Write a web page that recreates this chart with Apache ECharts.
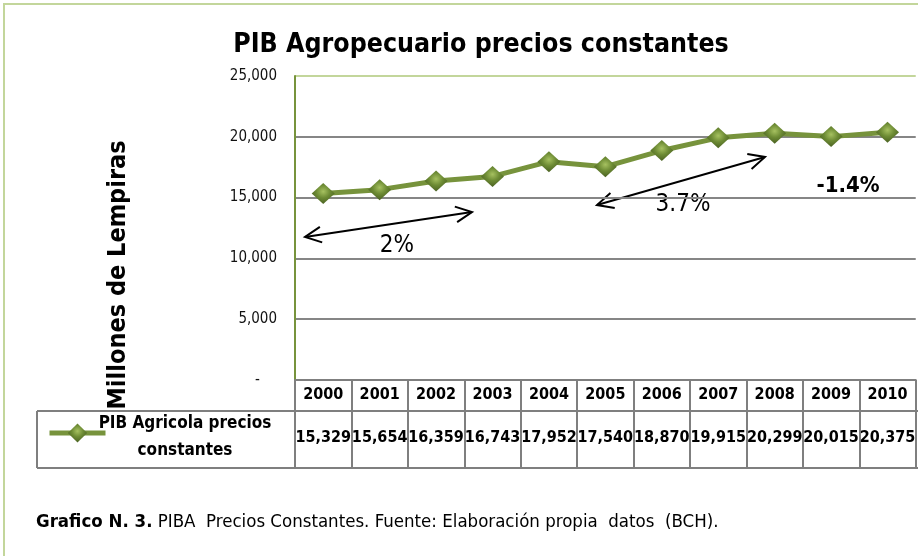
<!DOCTYPE html>
<html>
<head>
<meta charset="utf-8">
<script src="https://cdn.jsdelivr.net/npm/echarts@6/dist/echarts.min.js"></script>
<style>
  html, body { margin: 0; padding: 0; background: #fff; }
  #chart { width: 918px; height: 556px; }
</style>
</head>
<body>
<div id="chart"></div>
<script>
// datos del grafico
var years = ['2000', '2001', '2002', '2003', '2004', '2005', '2006', '2007', '2008', '2009', '2010'];
var pibAgricola = [15329, 15654, 16359, 16743, 17952, 17540, 18870, 19915, 20299, 20015, 20375];
var yTicks = [0, 5000, 10000, 15000, 20000, 25000];
var serieNombre = 'PIB Agricola precios constantes';

var NARROW = "'Liberation Sans Narrow', 'DejaVu Sans Condensed', 'Roboto', sans-serif";
var GREEN = '#77933c';
var GRID_GREY = '#868686';
var TABLE_GREY = '#7f7f7f';
var FRAME = '#c3d69b';

function miles(v) {
  return v.toLocaleString('en-US');
}

var chart = echarts.init(document.getElementById('chart'));

// flecha doble (decoracion)
function flecha(x1, y1, x2, y2) {
  var ang = Math.atan2(y2 - y1, x2 - x1);
  var L = 18, a = 0.45;
  function head(x, y, dir) {
    return {
      type: 'polyline',
      shape: { points: [
        [x + dir * L * Math.cos(ang - a), y + dir * L * Math.sin(ang - a)],
        [x, y],
        [x + dir * L * Math.cos(ang + a), y + dir * L * Math.sin(ang + a)]
      ] },
      style: { stroke: '#000', lineWidth: 2, fill: null }
    };
  }
  return [
    { type: 'line', shape: { x1: x1, y1: y1, x2: x2, y2: y2 }, style: { stroke: '#000', lineWidth: 2 } },
    head(x1, y1, 1),
    head(x2, y2, -1)
  ];
}

var graficos = [
  // marco exterior
  { type: 'rect', shape: { x: 4, y: 4, width: 1000, height: 1000 }, style: { fill: null, stroke: FRAME, lineWidth: 2 } },
  // tabla: lineas horizontales
  { type: 'line', shape: { x1: 37, y1: 411, x2: 930, y2: 411 }, style: { stroke: TABLE_GREY, lineWidth: 2 } },
  { type: 'line', shape: { x1: 37, y1: 468, x2: 930, y2: 468 }, style: { stroke: TABLE_GREY, lineWidth: 2 } },
  { type: 'line', shape: { x1: 37, y1: 411, x2: 37, y2: 468 }, style: { stroke: TABLE_GREY, lineWidth: 2 } },
  // texto de la leyenda
  { type: 'text', x: 185, y: 424, style: { text: 'PIB Agricola precios', font: 'bold 17px ' + NARROW, fill: '#000', align: 'center', verticalAlign: 'middle' } },
  { type: 'text', x: 185, y: 451, style: { text: 'constantes', font: 'bold 17px ' + NARROW, fill: '#000', align: 'center', verticalAlign: 'middle' } },
  // titulo del eje
  { type: 'text', x: 118, y: 275, rotation: Math.PI / 2, style: { text: 'Millones de Lempiras', font: 'bold 25px ' + NARROW, fill: '#000', align: 'center', verticalAlign: 'middle' } },
  // anotaciones
  { type: 'text', x: 397, y: 246, style: { text: '2%', font: '24px ' + NARROW, fill: '#000', align: 'center', verticalAlign: 'middle' } },
  { type: 'text', x: 683, y: 205, style: { text: '3.7%', font: '24px ' + NARROW, fill: '#000', align: 'center', verticalAlign: 'middle' } },
  { type: 'text', x: 848, y: 186, style: { text: '-1.4%', font: 'bold 22px ' + NARROW, fill: '#000', align: 'center', verticalAlign: 'middle' } },
  // pie de grafico
  { type: 'text', x: 36, y: 522, style: {
      text: '{b|Grafico N. 3.} PIBA  Precios Constantes. Fuente: Elaboración propia  datos  (BCH).',
      font: '18.5px ' + NARROW, fill: '#000', verticalAlign: 'middle',
      rich: { b: { font: 'bold 18.5px ' + NARROW, fill: '#000' } }
  } }
].concat(flecha(305, 237, 472, 212), flecha(597, 205, 765, 157));

var option = {
  animation: false,
  backgroundColor: '#fff',
  title: {
    text: 'PIB Agropecuario precios constantes',
    left: 476,
    top: 27,
    textAlign: 'center',
    textStyle: { fontFamily: NARROW, fontSize: 26.5, fontWeight: 'bold', color: '#000' }
  },
  legend: {
    left: 42,
    top: 416,
    itemWidth: 56,
    itemHeight: 24,
    formatter: function () { return ''; },
    lineStyle: { width: 5 },
    data: [serieNombre]
  },
  grid: { left: 295, top: 76, right: -4, height: 304 },
  xAxis: {
    type: 'category',
    data: years,
    boundaryGap: true,
    axisLine: { show: true, lineStyle: { color: TABLE_GREY, width: 2 } },
    axisTick: { show: true, length: 88, lineStyle: { color: TABLE_GREY, width: 2 } },
    axisLabel: {
      margin: 0,
      interval: 0,
      formatter: function (v, i) {
        return '{y|' + v + '}\n{v|' + miles(pibAgricola[i]) + '}';
      },
      rich: {
        y: { fontFamily: NARROW, fontSize: 16, fontWeight: 'bold', color: '#000', height: 30, lineHeight: 30 },
        v: { fontFamily: NARROW, fontSize: 16, fontWeight: 'bold', color: '#000', height: 57, lineHeight: 55 }
      }
    }
  },
  yAxis: {
    type: 'value',
    min: yTicks[0],
    max: yTicks[yTicks.length - 1],
    interval: 5000,
    axisLine: { show: true, lineStyle: { color: GREEN, width: 2 } },
    axisTick: { show: false },
    axisLabel: {
      margin: 18,
      fontFamily: NARROW,
      fontSize: 15,
      color: '#111',
      formatter: function (v) { return v === 0 ? '-    ' : miles(v); }
    },
    splitLine: {
      lineStyle: { color: [GRID_GREY, GRID_GREY, GRID_GREY, GRID_GREY, GRID_GREY, FRAME], width: 2 }
    }
  },
  series: [{
    name: serieNombre,
    type: 'line',
    data: pibAgricola,
    symbol: 'diamond',
    symbolSize: [23, 21],
    lineStyle: { color: GREEN, width: 5 },
    itemStyle: {
      color: new echarts.graphic.RadialGradient(0.5, 0.4, 0.6, [
        { offset: 0, color: '#a6c160' },
        { offset: 0.5, color: '#6d8b34' },
        { offset: 1, color: '#4a6122' }
      ]),
      borderWidth: 0
    },
    z: 3
  }],
  graphic: graficos
};

chart.setOption(option);
</script>
</body>
</html>
